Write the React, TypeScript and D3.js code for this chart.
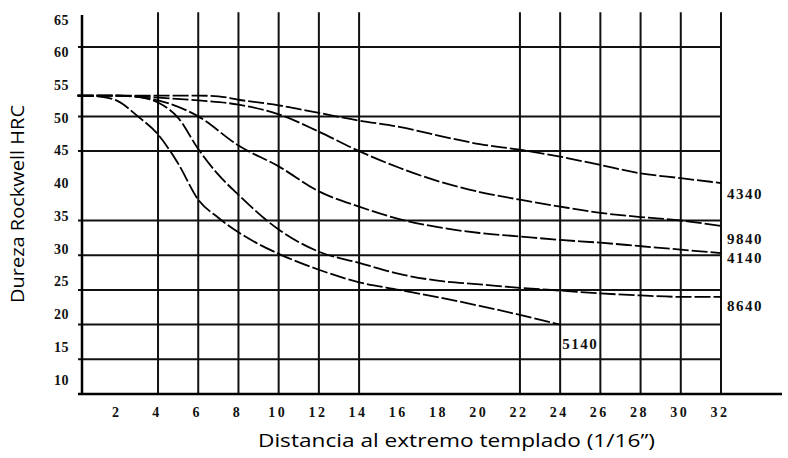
import React from "react";
import * as d3 from "d3";

const W = 788;
const H = 458;

// Tick labels
const xTickLabels = [2, 4, 6, 8, 10, 12, 14, 16, 18, 20, 22, 24, 26, 28, 30, 32];
const xGridValues = [4, 6, 8, 10, 12, 14, 22, 24, 26, 28, 30, 32];
const yTickLabels = [65, 60, 55, 50, 45, 40, 35, 30, 25, 20, 15, 10];
const yGridValues = [60, 50, 45, 35, 30, 25, 20, 15];

// Series (distance in 1/16", hardness HRC)
const steels = ["4340", "9840", "4140", "8640", "5140"];
const dist4340 = [0, 2, 4, 6, 7, 8, 10, 12, 14, 16, 18, 20, 22, 24, 26, 28, 30, 32];
const hrc4340 = [53, 53, 53, 53, 52.9, 52.4, 51.6, 50.5, 49.4, 48.5, 47.2, 46.0, 45.2, 44.2, 43.0, 41.8, 41.1, 40.4];
const dist9840 = [0, 2, 4, 6, 8, 10, 12, 14, 16, 18, 20, 22, 24, 26, 28, 30, 32];
const hrc9840 = [53, 53, 52.7, 52.3, 51.7, 50.3, 47.8, 45.0, 42.6, 40.6, 39.1, 38.0, 37.0, 36.1, 35.5, 35.0, 34.2];
const dist4140 = [0, 2, 4, 6, 8, 10, 12, 14, 16, 18, 20, 22, 24, 26, 28, 30, 32];
const hrc4140 = [53, 53, 52.3, 50.0, 45.8, 42.8, 39.2, 37.0, 35.2, 34.0, 33.2, 32.7, 32.2, 31.8, 31.3, 30.8, 30.3];
const dist8640 = [0, 2, 3, 4, 5, 6, 7, 8, 10, 12, 14, 16, 18, 20, 22, 24, 26, 28, 30, 32];
const hrc8640 = [53, 53, 52.8, 52, 49.8, 45.3, 41.6, 38.7, 33.7, 30.5, 28.9, 27.3, 26.3, 25.8, 25.3, 24.9, 24.5, 24.2, 24.0, 24.0];
const dist5140 = [0, 1, 2, 3, 4, 5, 6, 7, 8, 9, 10, 12, 14, 16, 18, 20, 22, 24];
const hrc5140 = [53, 52.9, 52.2, 50.0, 47.4, 43.2, 38.0, 35.4, 33.3, 31.6, 30.2, 27.9, 26.1, 25.0, 23.9, 22.7, 21.4, 20.0];

// Label anchors (distance, hardness)
const labelDist = [32.3, 32.3, 32.3, 32.3, 24.1];
const labelHrc = [38.8, 32.3, 29.6, 22.7, 17.2];

const seriesDist = [dist4340, dist9840, dist4140, dist8640, dist5140];
const seriesHrc = [hrc4340, hrc9840, hrc4140, hrc8640, hrc5140];

export default function App() {
  const x = d3.scaleLinear().domain([0, 32]).range([77.6, 721]);
  const y = d3.scaleLinear().domain([10, 65]).range([394, 12.3]);
  const yLab = d3.scaleLinear().domain([65, 10]).range([20, 380]);

  const line = d3
    .line<[number, number]>()
    .x((d) => x(d[0]))
    .y((d) => y(d[1]))
    .curve(d3.curveMonotoneX);

  const axisX = 82;
  const gridColor = "#111";
  const tickFont = "'Liberation Serif', 'DejaVu Serif', serif";
  const titleFont = "'Open Sans', 'Liberation Sans', sans-serif";

  return (
    <svg
      width={W}
      height={H}
      style={{ position: "absolute", left: 0, top: 0, background: "#fff" }}
    >
      <rect x={0} y={0} width={W} height={H} fill="#fff" />
      {/* horizontal grid */}
      {yGridValues.map((v) => (
        <line key={"h" + v} x1={78} x2={x(32)} y1={y(v)} y2={y(v)} stroke={gridColor} strokeWidth={2} />
      ))}
      {/* vertical grid */}
      {xGridValues.map((v) => (
        <line key={"v" + v} x1={x(v)} x2={x(v)} y1={y(65)} y2={y(10)} stroke={gridColor} strokeWidth={2} />
      ))}
      {/* axes */}
      <line x1={axisX} x2={axisX} y1={15} y2={y(10) + 1} stroke="#000" strokeWidth={2.5} />
      <line x1={78} x2={782} y1={y(10)} y2={y(10)} stroke="#000" strokeWidth={2.5} />

      {/* curves */}
      {steels.map((s, i) => (
        <path
          key={s}
          d={line(seriesDist[i].map((d, j) => [d, seriesHrc[i][j]] as [number, number])) || ""}
          fill="none"
          stroke="#000"
          strokeWidth={1.8}
          strokeDasharray="16,3"
        />
      ))}

      {/* y tick labels */}
      {yTickLabels.map((v) => (
        <text
          key={"yl" + v}
          x={69}
          y={yLab(v)}
          textAnchor="end"
          dominantBaseline="central"
          fontFamily={tickFont}
          fontWeight="bold"
          fontSize={14}
          letterSpacing={0.5}
          fill="#111"
        >
          {v}
        </text>
      ))}

      {/* x tick labels */}
      {xTickLabels.map((v) => (
        <text
          key={"xl" + v}
          x={x(v) - 1}
          y={412}
          textAnchor="middle"
          dominantBaseline="central"
          fontFamily={tickFont}
          fontWeight="bold"
          fontSize={14}
          letterSpacing={2.5}
          fill="#111"
        >
          {v}
        </text>
      ))}

      {/* series labels */}
      {steels.map((s, i) => (
        <text
          key={"sl" + s}
          x={x(labelDist[i])}
          y={y(labelHrc[i])}
          dominantBaseline="central"
          fontFamily={tickFont}
          fontWeight="bold"
          fontSize={15}
          letterSpacing={1.5}
          fill="#111"
        >
          {s}
        </text>
      ))}

      {/* axis titles */}
      <text
        x={258}
        y={447}
        fontFamily={titleFont}
        fontSize={18}
        textLength={397}
        lengthAdjust="spacingAndGlyphs"
        fill="#000"
      >
        Distancia al extremo templado (1/16”)
      </text>
      <text
        transform={`translate(24, 303) rotate(-90)`}
        fontFamily={titleFont}
        fontSize={18}
        textLength={198}
        lengthAdjust="spacingAndGlyphs"
        fill="#000"
      >
        Dureza Rockwell HRC
      </text>
    </svg>
  );
}
